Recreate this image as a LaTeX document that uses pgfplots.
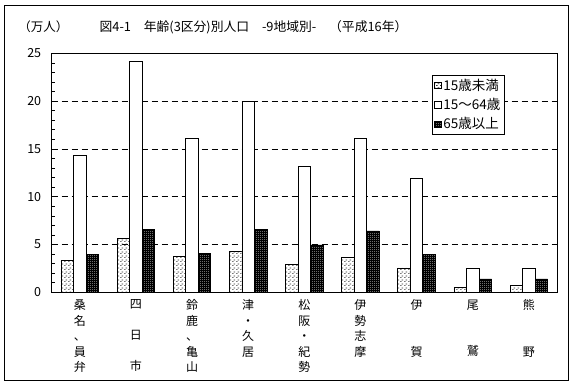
\documentclass[border=0pt]{standalone}
\usepackage{fontspec}
\setmainfont{Noto Sans CJK JP}
\usepackage{pgfplots}
\usepackage{pgfplotstable}
\pgfplotsset{compat=1.18}
\usetikzlibrary{patterns}

\pgfdeclarepatternformonly{smalldash}{\pgfqpoint{0pt}{0pt}}{\pgfqpoint{4pt}{4pt}}{\pgfqpoint{4pt}{4pt}}{%
  \pgfpathrectangle{\pgfqpoint{0pt}{0pt}}{\pgfqpoint{2pt}{0.9pt}}%
  \pgfpathrectangle{\pgfqpoint{2pt}{2pt}}{\pgfqpoint{2pt}{0.9pt}}%
  \pgfusepath{fill}}
\pgfdeclarepatternformonly{densedots}{\pgfqpoint{0pt}{0pt}}{\pgfqpoint{2pt}{2pt}}{\pgfqpoint{2pt}{2pt}}{%
  \pgfpathrectangle{\pgfqpoint{0pt}{0pt}}{\pgfqpoint{0.9pt}{0.9pt}}%
  \pgfusepath{fill}}

\pgfplotstableread{
x  young  work  old
0  3.30  14.3  4.00
1  5.65  24.2  6.62
2  3.78  16.1  4.08
3  4.32  20.0  6.62
4  2.93  13.2  4.95
5  3.60  16.05 6.42
6  2.55  11.9  4.00
7  0.56  2.45  1.40
8  0.70  2.55  1.40
}\datatable

\begin{document}
\begin{tikzpicture}[x=1pt,y=1pt]
\path[use as bounding box] (0,0) rectangle (574,386);
\draw[line width=0.8pt] (4,6) rectangle (568,380.3);
\node[font=\fontsize{12.5}{14}\selectfont] at (43.5,359) {（万人）};
\node[font=\fontsize{12.8}{14}\selectfont] at (253.5,359) {図4-1　年齢(3区分)別人口　-9地域別-　（平成16年）};
\begin{axis}[
  at={(51.7pt,93.7pt)}, anchor=south west,
  scale only axis, width=505.3pt, height=239pt,
  xmin=-0.5, xmax=8.5, ymin=0, ymax=25,
  axis line style={line width=0.8pt},
  ybar, bar width=0.223,
  xtick={0,...,8},
  xticklabels={{桑\\名\\、\\員\\弁},{四\\\mbox{}\\日\\\mbox{}\\市},{鈴\\鹿\\、\\亀\\山},{津\\・\\久\\居},{松\\阪\\・\\紀\\勢},{伊\\勢\\志\\摩},{伊\\\mbox{}\\\mbox{}\\賀},{尾\\\mbox{}\\\mbox{}\\鷲},{熊\\\mbox{}\\\mbox{}\\野}},
  x tick label style={align=center, font=\fontsize{12}{15.5}\selectfont, anchor=north, yshift=-4pt},
  major x tick style={draw=none},
  ytick={0,5,...,25},
  minor y tick num=4,
  y tick label style={font=\fontsize{12.5}{14}\selectfont, xshift=-7pt},
  /pgf/number format/assume math mode=true,
  tick align=inside, ytick pos=left,
  major tick length=3pt, minor tick length=3pt,
  tick style={black, line width=0.6pt},
  ymajorgrids, grid style={black, dash pattern=on 6pt off 4pt, line width=0.6pt},
  axis on top=false,
  legend style={at={(0.753,0.909)}, anchor=north west, draw=black, line width=0.6pt,
    font=\fontsize{13.5}{15}\selectfont, fill=white, inner xsep=2pt, inner ysep=1.5pt,
    row sep=2.5pt, legend cell align=left},
  legend image code/.code={\draw[#1,line width=0.5pt] (0pt,-3.2pt) rectangle (6.4pt,3.2pt);},
]
\addplot[draw=black, line width=0.8pt, fill=white, pattern=smalldash, pattern color=black!80, bar shift=-0.223] table[x=x,y=young]{\datatable};
\addplot[draw=black, line width=0.8pt, fill=white, bar shift=0] table[x=x,y=work]{\datatable};
\addplot[draw=black, line width=0.8pt, fill=black, postaction={pattern=densedots, pattern color=white}, bar shift=0.223] table[x=x,y=old]{\datatable};
\legend{15歳未満,15～64歳,65歳以上}
\end{axis}
\end{tikzpicture}
\end{document}
